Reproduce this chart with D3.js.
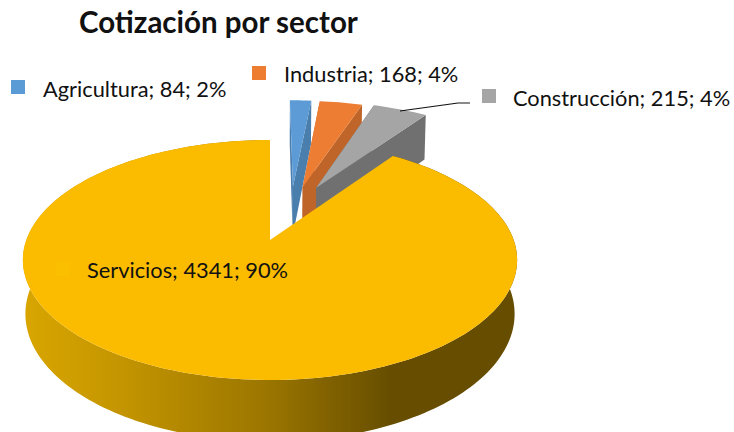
<!DOCTYPE html>
<html>
<head>
<meta charset="utf-8">
<script src="https://cdn.jsdelivr.net/npm/d3@7"></script>
<style>
  html, body { margin: 0; padding: 0; background: #fff; }
  svg { display: block; }
  text { font-family: Lato, "Open Sans", sans-serif; fill: #111; }
</style>
</head>
<body>
<svg width="734" height="432"></svg>
<script>
const title = "Cotización por sector";
const categories = ["Agricultura", "Industria", "Construcción", "Servicios"];
const values = [84, 168, 215, 4341];
const percents = [2, 4, 4, 90];
const topColors = ["#5B9BD5", "#ED7D31", "#A5A5A5", "#FBBC00"];
const sideColors = ["#4A7EAD", "#BF6529", "#707070", "#B88C00"];

// exploded offset of every slice on the pie plane, in pie radii
const explode = [[0.102, 0.497], [0.145, 0.49], [0.205, 0.484], [0, 0]];
// where each label sits: key square left/top, then text left/baseline
const labelPos = [[11, 80, 43, 97], [252, 66, 284, 82], [482, 89, 513, 106], [56, 262, 87, 278]];

const svg = d3.select("svg");

// the pie plane seen from a camera in front of it and above
const cx = 270, cy = 240, camera = 6;
const spreadX = 1462, spreadY = 700, drop = 320, dropPersp = 0.06;

function project(u, v, z) {
    const w = camera + v + dropPersp * z;
    return [cx + spreadX * u / w, cy - (spreadY * v - drop * z) / w];
}

const pie = d3.pie().sort(null)(values);
const line = d3.line();

function rim(d, z) {
    const [ou, ov] = explode[d.index];
    const n = Math.max(4, Math.ceil((d.endAngle - d.startAngle) * 40));
    return d3.range(n + 1).map(i => {
        const a = d.startAngle + (d.endAngle - d.startAngle) * i / n;
        return project(ou + Math.sin(a), ov + Math.cos(a), z);
    });
}

function apex(d, z) {
    const [ou, ov] = explode[d.index];
    return project(ou, ov, z);
}

const defs = svg.append("defs");
const grad = defs.append("linearGradient")
    .attr("id", "sideGrad")
    .attr("gradientUnits", "userSpaceOnUse")
    .attr("x1", 22).attr("x2", 516).attr("y1", 0).attr("y2", 0);
grad.selectAll("stop")
    .data([[0, "#D9A600"], [0.2, "#C49500"], [0.5, "#9A7500"], [0.75, "#664D00"], [1, "#664D00"]])
    .join("stop")
    .attr("offset", d => d[0])
    .attr("stop-color", d => d[1]);

// the picture is a slightly soft screenshot
defs.append("filter")
    .attr("id", "soft")
    .append("feGaussianBlur")
    .attr("stdDeviation", 0.5);

const g = svg.append("g").attr("filter", "url(#soft)");

pie.forEach(d => {
    const big = d.index === 3;
    const top = rim(d, 0);
    const bottom = rim(d, 1);
    const side = big ? "url(#sideGrad)" : sideColors[d.index];

    if (!big) {
        // cut faces of the exploded wedges
        const last = top.length - 1;
        g.append("path")
            .attr("d", line([top[0], apex(d, 0), apex(d, 1), bottom[0]]) + "Z")
            .attr("fill", side);
        g.append("path")
            .attr("d", line([top[last], apex(d, 0), apex(d, 1), bottom[last]]) + "Z")
            .attr("fill", side);
    } else {
        // outer wall
        g.append("path")
            .attr("d", line(top.concat(bottom.slice().reverse())) + "Z")
            .attr("fill", side);
    }

    g.append("path")
        .attr("d", line([apex(d, 0)].concat(top)) + "Z")
        .attr("fill", topColors[d.index]);

    // the leader is hidden behind the big slice, so it goes in before it
    if (d.index === 2) {
        g.append("path")
            .attr("d", line([[400, 111], [458, 103], [470, 103]]))
            .attr("fill", "none")
            .attr("stroke", "#111")
            .attr("stroke-width", 1.2);
    }
});

svg.append("text")
    .attr("x", 79).attr("y", 33)
    .attr("font-size", 29.5)
    .attr("font-weight", 700)
    .text(title);

categories.forEach((c, i) => {
    const [kx, ky, tx, ty] = labelPos[i];
    svg.append("rect")
        .attr("x", kx).attr("y", ky)
        .attr("width", 14).attr("height", 14)
        .attr("fill", i === 3 ? "#FCBF00" : topColors[i]);
    svg.append("text")
        .attr("x", tx).attr("y", ty)
        .attr("font-size", 21.8)
        .text(`${c}; ${values[i]}; ${percents[i]}%`);
});
</script>
</body>
</html>
